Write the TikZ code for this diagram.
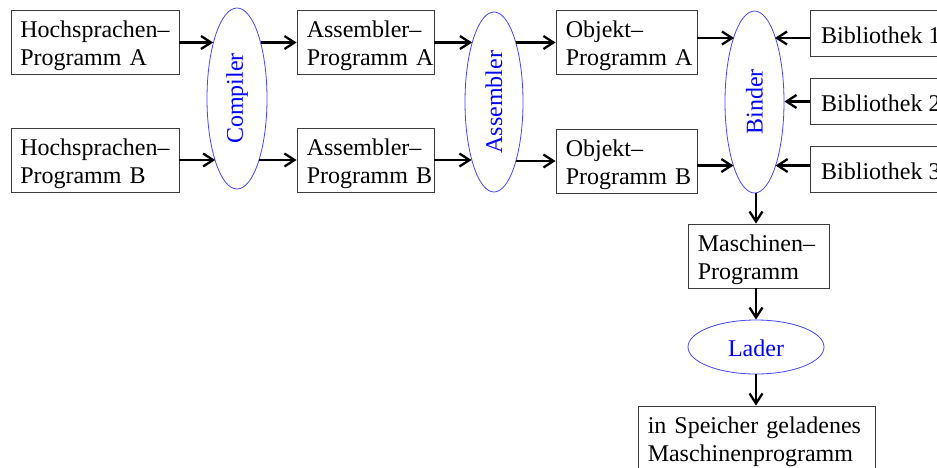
\documentclass[tikz,border=0pt]{standalone}
\usepackage{fontspec}
\setmainfont{Liberation Serif}
\usepackage{graphicx}
\usetikzlibrary{arrows.meta,shapes.geometric}
\definecolor{frame}{RGB}{60,60,60}
\definecolor{toolblue}{RGB}{0,0,255}
\definecolor{toolline}{RGB}{70,70,255}
\begin{document}
\begin{tikzpicture}[x=1pt,y=-1pt,
  txt/.style={font=\fontsize{24}{28}\selectfont},
  box/.style={draw=frame, line width=0.9pt, rectangle, inner sep=0pt,
    minimum height=64pt},
  libbox/.style={draw=frame, line width=0.9pt, rectangle, anchor=west,
    inner sep=0pt, minimum height=46pt, minimum width=150pt},
  lbl/.style={txt, anchor=west, inner sep=0pt, align=left, text width=230pt,
    text height=16pt, text depth=26pt},
  libtxt/.style={txt, anchor=west, inner sep=0pt, text height=20pt, text depth=0pt},
  tool/.style={txt, ellipse, draw=toolline, text=toolblue, line width=0.8pt,
    inner sep=0pt},
  arr/.style={line width=2.3pt, -{Straight Barb[length=10pt,width=13pt]}}]

% canvas and visible area
\fill[white] (0,0) rectangle (937,467);
\useasboundingbox (0,0) rectangle (937,467);
\clip (0,0) rectangle (937,467);

% source programs
\node[box, minimum width=168pt] (HA) at (95,42.5) {};
\node[box, minimum width=168pt] (HB) at (95,160) {};
\node[lbl] at ([xshift=9.5pt]HA.west) {Hochsprachen--\\Programm A};
\node[lbl] at ([xshift=9.5pt]HB.west) {Hochsprachen--\\Programm B};

% compiler
\node[tool, minimum width=60pt, minimum height=181pt] (Comp) at (237,98.5)
  {\rotatebox{90}{Compiler}};

% assembler programs
\node[box, minimum width=137pt] (AA) at (365.5,42.5) {};
\node[box, minimum width=137pt] (AB) at (365.5,160) {};
\node[lbl] at ([xshift=10pt]AA.west) {Assembler--\\Programm A};
\node[lbl] at ([xshift=10pt]AB.west) {Assembler--\\Programm B};

% assembler
\node[tool, minimum width=58pt, minimum height=180pt] (Asm) at (494,102)
  {\rotatebox{90}{Assembler}};

% object programs
\node[box, minimum width=141pt] (OA) at (626.5,42.5) {};
\node[box, minimum width=141pt] (OB) at (626.5,161) {};
\node[lbl] at ([xshift=10pt]OA.west) {Objekt--\\Programm A};
\node[lbl] at ([xshift=10pt]OB.west) {Objekt--\\Programm B};

% linker
\node[tool, minimum width=59pt, minimum height=182pt] (Bind) at (754.5,102)
  {\rotatebox{90}{Binder}};

% libraries
\node[libbox] (L1) at (810,33) {};
\node[libbox] (L2) at (810,101.5) {};
\node[libbox] (L3) at (810,169.5) {};
\node[libtxt] at ([xshift=11pt]L1.west) {Bibliothek 1};
\node[libtxt] at ([xshift=11pt]L2.west) {Bibliothek 2};
\node[libtxt] at ([xshift=11pt]L3.west) {Bibliothek 3};

% machine program, loader, loaded program
\node[box, minimum width=141pt] (MP) at (758.5,256) {};
\node[lbl] at ([xshift=10pt]MP.west) {Maschinen--\\Programm};
\node[tool, minimum width=136pt, minimum height=54pt, text height=18pt,
  text depth=0pt] (Lad) at (756,347) {Lader};
\node[box, minimum width=237pt] (Mem) at (756.5,438) {};
\node[lbl] at ([xshift=10pt]Mem.west) {in Speicher geladenes\\Maschinenprogramm};

% rows of the linker inputs
\coordinate (rowA) at (0,38);
\coordinate (rowB) at (0,165.5);

% compiler arrows
\draw[arr] (HA.east) -- (HA.east -| Comp.113);
\draw[arr] (HB.east) -- (HB.east -| Comp.251);
\draw[arr] (Comp.67 |- AA.west) -- (AA.west);
\draw[arr] (Comp.289 |- AB.west) -- (AB.west);

% assembler arrows
\draw[arr] (AA.east) -- (AA.east -| Asm.110);
\draw[arr] (AB.east) -- (AB.east -| Asm.249);
\draw[arr] (Asm.70 |- OA.west) -- (OA.west);
\draw[arr] (Asm.291 |- OB.west) -- (OB.west);

% linker arrows
\draw[arr] (OA.east |- rowA) -- (Bind.107 |- rowA);
\draw[arr] (OB.east |- rowB) -- (Bind.252 |- rowB);
\draw[arr] (L1.west |- rowA) -- (Bind.73 |- rowA);
\draw[arr] (L2.west) -- (Bind.east |- L2.west);
\draw[arr] (L3.west |- rowB) -- (Bind.288 |- rowB);

% vertical chain
\draw[arr] (Bind.south -| Lad) -- (MP.north -| Lad);
\draw[arr] (MP.south -| Lad) -- (Lad.north);
\draw[arr] (Lad.south) -- (Mem.north -| Lad);
\end{tikzpicture}
\end{document}
